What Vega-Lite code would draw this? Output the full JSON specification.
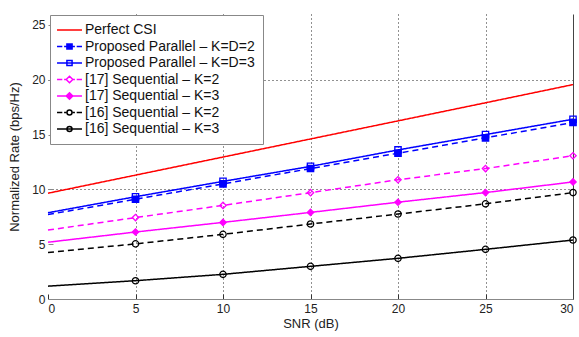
{
  "$schema": "https://vega.github.io/schema/vega-lite/v6.json",
  "width": 525,
  "height": 285,
  "autosize": {"type": "none"},
  "padding": {"left": 48, "top": 14, "right": 6, "bottom": 38},
  "background": "white",
  "config": {
    "view": {"stroke": null},
    "font": "Liberation Sans",
    "axis": {"labelFont": "Liberation Sans", "titleFont": "Liberation Sans", "labelColor": "#222", "titleColor": "#222", "labelFontSize": 12, "titleFontSize": 13, "titleFontWeight": "normal"}
  },
  "datasets": {
    "d": [
      {"s": "Perfect CSI", "x": 0, "y": 9.65}, {"s": "Perfect CSI", "x": 5, "y": 11.3}, {"s": "Perfect CSI", "x": 10, "y": 12.95}, {"s": "Perfect CSI", "x": 15, "y": 14.6}, {"s": "Perfect CSI", "x": 20, "y": 16.25}, {"s": "Perfect CSI", "x": 25, "y": 17.9}, {"s": "Perfect CSI", "x": 30, "y": 19.56},
      {"s": "Proposed Parallel – K=D=2", "x": 0, "y": 7.7}, {"s": "Proposed Parallel – K=D=2", "x": 5, "y": 9.1}, {"s": "Proposed Parallel – K=D=2", "x": 10, "y": 10.5}, {"s": "Proposed Parallel – K=D=2", "x": 15, "y": 11.9}, {"s": "Proposed Parallel – K=D=2", "x": 20, "y": 13.3}, {"s": "Proposed Parallel – K=D=2", "x": 25, "y": 14.7}, {"s": "Proposed Parallel – K=D=2", "x": 30, "y": 16.1},
      {"s": "Proposed Parallel – K=D=3", "x": 0, "y": 7.87}, {"s": "Proposed Parallel – K=D=3", "x": 5, "y": 9.33}, {"s": "Proposed Parallel – K=D=3", "x": 10, "y": 10.73}, {"s": "Proposed Parallel – K=D=3", "x": 15, "y": 12.1}, {"s": "Proposed Parallel – K=D=3", "x": 20, "y": 13.6}, {"s": "Proposed Parallel – K=D=3", "x": 25, "y": 15.0}, {"s": "Proposed Parallel – K=D=3", "x": 30, "y": 16.4},
      {"s": "[17] Sequential – K=2", "x": 0, "y": 6.29}, {"s": "[17] Sequential – K=2", "x": 5, "y": 7.43}, {"s": "[17] Sequential – K=2", "x": 10, "y": 8.54}, {"s": "[17] Sequential – K=2", "x": 15, "y": 9.7}, {"s": "[17] Sequential – K=2", "x": 20, "y": 10.88}, {"s": "[17] Sequential – K=2", "x": 25, "y": 11.9}, {"s": "[17] Sequential – K=2", "x": 30, "y": 13.07},
      {"s": "[17] Sequential – K=3", "x": 0, "y": 5.18}, {"s": "[17] Sequential – K=3", "x": 5, "y": 6.11}, {"s": "[17] Sequential – K=3", "x": 10, "y": 6.99}, {"s": "[17] Sequential – K=3", "x": 15, "y": 7.9}, {"s": "[17] Sequential – K=3", "x": 20, "y": 8.83}, {"s": "[17] Sequential – K=3", "x": 25, "y": 9.71}, {"s": "[17] Sequential – K=3", "x": 30, "y": 10.68},
      {"s": "[16] Sequential – K=2", "x": 0, "y": 4.24}, {"s": "[16] Sequential – K=2", "x": 5, "y": 5.03}, {"s": "[16] Sequential – K=2", "x": 10, "y": 5.9}, {"s": "[16] Sequential – K=2", "x": 15, "y": 6.84}, {"s": "[16] Sequential – K=2", "x": 20, "y": 7.75}, {"s": "[16] Sequential – K=2", "x": 25, "y": 8.68}, {"s": "[16] Sequential – K=2", "x": 30, "y": 9.71},
      {"s": "[16] Sequential – K=3", "x": 0, "y": 1.17}, {"s": "[16] Sequential – K=3", "x": 5, "y": 1.67}, {"s": "[16] Sequential – K=3", "x": 10, "y": 2.25}, {"s": "[16] Sequential – K=3", "x": 15, "y": 2.98}, {"s": "[16] Sequential – K=3", "x": 20, "y": 3.71}, {"s": "[16] Sequential – K=3", "x": 25, "y": 4.53}, {"s": "[16] Sequential – K=3", "x": 30, "y": 5.38}
    ]
  },
  "data": {"name": "d"},
  "resolve": {"scale": {"color": "independent", "shape": "independent", "fill": "independent", "strokeDash": "independent"}, "axis": {"y": "independent", "x": "independent"}},
  "layer": [
    {
      "mark": {"type": "line", "strokeWidth": 1.5},
      "encoding": {
        "x": {"field": "x", "type": "quantitative", "scale": {"domain": [0, 30]},
          "axis": {"values": [0, 5, 10, 15, 20, 25, 30], "title": "SNR (dB)", "titlePadding": 3, "domainColor": "#888", "tickColor": "#333", "tickSize": -5, "labelPadding": 9, "grid": true, "gridColor": "#222", "gridDash": [1, 3],
            "gridOpacity": {"condition": {"test": "datum.value > 0 && datum.value < 30", "value": 1}, "value": 0}}},
        "y": {"field": "y", "type": "quantitative", "scale": {"domain": [0, 25]},
          "axis": {"values": [0, 5, 10, 15, 20, 25], "title": "Normalized Rate (bps/Hz)", "titlePadding": 10, "domain": false, "tickColor": "#888", "tickSize": -5, "labelPadding": 8, "grid": true, "gridColor": "#222", "gridDash": [1, 3],
            "gridOpacity": {"condition": {"test": "datum.value == 10 || datum.value == 20", "value": 1}, "value": 0}}},
        "color": {"field": "s", "type": "nominal", "legend": null, "sort": null,
          "scale": {"domain": ["Perfect CSI", "Proposed Parallel – K=D=2", "Proposed Parallel – K=D=3", "[17] Sequential – K=2", "[17] Sequential – K=3", "[16] Sequential – K=2", "[16] Sequential – K=3"],
            "range": ["#ff0000", "#0000ff", "#0000ff", "#ff00ff", "#ff00ff", "#000000", "#000000"]}},
        "strokeDash": {"field": "s", "type": "nominal", "legend": null,
          "scale": {"domain": ["Perfect CSI", "Proposed Parallel – K=D=2", "Proposed Parallel – K=D=3", "[17] Sequential – K=2", "[17] Sequential – K=3", "[16] Sequential – K=2", "[16] Sequential – K=3"],
            "range": [[1, 0], [6, 4], [1, 0], [6, 4], [1, 0], [6, 4], [1, 0]]}}
      }
    },
    {
      "transform": [{"filter": "datum.x > 0 && datum.s != 'Perfect CSI'"}],
      "mark": {"type": "point", "strokeWidth": 1.3, "size": 40, "opacity": 1},
      "encoding": {
        "x": {"field": "x", "type": "quantitative", "axis": null},
        "y": {"field": "y", "type": "quantitative", "axis": {"orient": "right", "labels": false, "ticks": false, "title": null, "grid": false, "domainColor": "#444"}},
        "color": {"field": "s", "type": "nominal", "legend": null,
          "scale": {"domain": ["Perfect CSI", "Proposed Parallel – K=D=2", "Proposed Parallel – K=D=3", "[17] Sequential – K=2", "[17] Sequential – K=3", "[16] Sequential – K=2", "[16] Sequential – K=3"],
            "range": ["#ff0000", "#0000ff", "#0000ff", "#ff00ff", "#ff00ff", "#000000", "#000000"]}},
        "fill": {"field": "s", "type": "nominal", "legend": null,
          "scale": {"domain": ["Perfect CSI", "Proposed Parallel – K=D=2", "Proposed Parallel – K=D=3", "[17] Sequential – K=2", "[17] Sequential – K=3", "[16] Sequential – K=2", "[16] Sequential – K=3"],
            "range": ["transparent", "#0000ff", "transparent", "transparent", "#ff00ff", "transparent", "transparent"]}},
        "shape": {"field": "s", "type": "nominal", "legend": null,
          "scale": {"domain": ["Perfect CSI", "Proposed Parallel – K=D=2", "Proposed Parallel – K=D=3", "[17] Sequential – K=2", "[17] Sequential – K=3", "[16] Sequential – K=2", "[16] Sequential – K=3"],
            "range": ["circle", "square", "square", "diamond", "diamond", "circle", "circle"]}}
      }
    },
    {
      "transform": [{"filter": "datum.x < 0"}],
      "mark": {"type": "point", "strokeWidth": 1.5},
      "encoding": {
        "x": {"field": "x", "type": "quantitative", "axis": null},
        "y": {"field": "y", "type": "quantitative", "axis": null},
        "color": {"field": "s", "type": "nominal",
          "scale": {"domain": ["Perfect CSI", "Proposed Parallel – K=D=2", "Proposed Parallel – K=D=3", "[17] Sequential – K=2", "[17] Sequential – K=3", "[16] Sequential – K=2", "[16] Sequential – K=3"],
            "range": ["#ff0000", "#0000ff", "#0000ff", "#ff00ff", "#ff00ff", "#000000", "#000000"]},
          "legend": {"title": null, "orient": "none", "legendX": 2, "legendY": 1, "fillColor": "white", "strokeColor": "#888", "padding": 8, "symbolSize": 144, "symbolOffset": 4.5, "symbolStrokeWidth": 1.5, "labelFont": "Liberation Sans", "labelFontSize": 14, "labelLimit": 400, "labelColor": "#111", "labelOffset": 8.5, "rowPadding": 2.5, "symbolOpacity": 1}},
        "fill": {"field": "s", "type": "nominal",
          "scale": {"domain": ["Perfect CSI", "Proposed Parallel – K=D=2", "Proposed Parallel – K=D=3", "[17] Sequential – K=2", "[17] Sequential – K=3", "[16] Sequential – K=2", "[16] Sequential – K=3"],
            "range": ["transparent", "#0000ff", "transparent", "transparent", "#ff00ff", "transparent", "transparent"]}},
        "shape": {"field": "s", "type": "nominal",
          "scale": {"domain": ["Perfect CSI", "Proposed Parallel – K=D=2", "Proposed Parallel – K=D=3", "[17] Sequential – K=2", "[17] Sequential – K=3", "[16] Sequential – K=2", "[16] Sequential – K=3"],
            "range": [
              "M-2.08,0H2.08",
              "M-2.08,0H-1.2M-0.9,0H-0.55M0.55,0H0.9M1.2,0H2.08M-0.43,-0.43H0.43V0.43H-0.43Z",
              "M-2.08,0H2.08M-0.43,-0.43H0.43V0.43H-0.43Z",
              "M-2.08,0H-1.2M-0.9,0H-0.6M0.6,0H0.9M1.2,0H2.08M0,-0.55L0.55,0L0,0.55L-0.55,0Z",
              "M-2.08,0H2.08M0,-0.55L0.55,0L0,0.55L-0.55,0Z",
              "M-2.08,0H-1.2M-0.9,0H-0.55M0.55,0H0.9M1.2,0H2.08M0.42,0A0.42,0.42,0,1,1,-0.42,0A0.42,0.42,0,1,1,0.42,0Z",
              "M-2.08,0H2.08M0.42,0A0.42,0.42,0,1,1,-0.42,0A0.42,0.42,0,1,1,0.42,0Z"
            ]}}
      }
    }
  ]
}
